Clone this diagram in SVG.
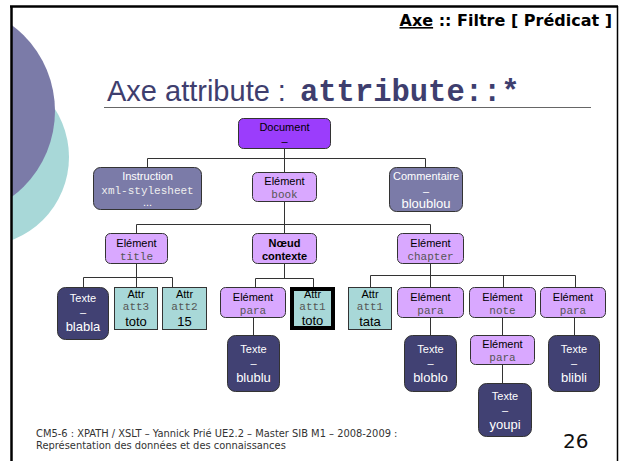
<svg xmlns="http://www.w3.org/2000/svg" width="621" height="461" viewBox="0 0 621 461">
  <defs>
    <clipPath id="slideArea"><rect x="11" y="6" width="607" height="455"/></clipPath>
  </defs>
  <style>
    .frame{stroke:#000;fill:none}
    .doc{fill:#9b3dfc;stroke:#333;stroke-width:1}
    .elem{fill:#d9a8ff;stroke:#333;stroke-width:1}
    .proc{fill:#7b7ba8;stroke:#333;stroke-width:1}
    .txt{fill:#414173;stroke:#333;stroke-width:1}
    .attr{fill:#a8d8d8;stroke:#333;stroke-width:1}
    .ctx{fill:#a8d8d8;stroke:#000;stroke-width:4}
    .lbl{font-family:"Liberation Sans",Arial,sans-serif;font-size:11px;text-anchor:middle;fill:#000}
    .bold{font-weight:bold}
    .code{font-family:"Liberation Mono","Courier New",monospace;font-size:11px;text-anchor:middle;fill:#555}
    .val{font-family:"Liberation Sans",Arial,sans-serif;font-size:13px;text-anchor:middle;fill:#000}
    .w{fill:#fff}
    .links path{fill:none;stroke:#333;stroke-width:1}
  </style>

  <rect x="0" y="0" width="621" height="461" fill="#fff"/>

  <!-- decorative discs on the left edge -->
  <g clip-path="url(#slideArea)">
    <circle cx="-20" cy="157" r="89" fill="#a8d8d8"/>
    <circle cx="-52" cy="111" r="107" fill="#7b7ba8"/>
  </g>

  <!-- slide frame -->
  <path class="frame" d="M10 6.5 H618" stroke-width="2.5"/>
  <path class="frame" d="M11.5 6 V461" stroke-width="2.5"/>
  <path class="frame" d="M617.5 6 V461" stroke-width="1.5"/>

  <!-- header -->
  <text x="612" y="26" text-anchor="end" font-family="DejaVu Sans,Verdana,sans-serif" font-size="16" font-weight="bold" fill="#000"><tspan text-decoration="underline">Axe</tspan> :: Filtre [ Prédicat ]</text>

  <!-- title -->
  <text x="107" y="101" font-family="Liberation Sans,Arial,sans-serif" font-size="29" fill="#3e3e6e">Axe attribute : </text>
  <text x="300" y="101" font-family="Liberation Mono,Courier New,monospace" font-size="30.5" font-weight="bold" fill="#3e3e6e">attribute::*</text>
  <path d="M104 107.5 H591" stroke="#666" stroke-width="1"/>

  <!-- connectors -->
  <g class="links">
    <path d="M284.5 149 V172"/>
    <path d="M147.5 167 V158.5 H425.5 V167"/>
    <path d="M284.5 202 V233"/>
    <path d="M136.5 233 V224.5 H430.5 V233"/>
    <path d="M136.5 264 V287"/>
    <path d="M83.5 287 V277.5 H172.5 V287"/>
    <path d="M284.5 264 V278.5"/>
    <path d="M255.5 287 V278.5 H313.5 V289"/>
    <path d="M430.5 264 V287"/>
    <path d="M370.5 287 V275.5 H575.5 V287"/>
    <path d="M503.5 275.5 V287"/>
    <path d="M253.5 318 V335"/>
    <path d="M430.5 318 V335"/>
    <path d="M502.5 318 V335"/>
    <path d="M502.5 365 V383"/>
    <path d="M574.5 318 V335"/>
  </g>

  <!-- nodes -->
  <g id="document">
    <rect class="doc" x="238.5" y="118.5" width="92" height="30" rx="5"/>
    <text class="lbl" x="284.5" y="131">Document</text>
    <text class="lbl" x="284.5" y="145">–</text>
  </g>
  <g id="instruction">
    <rect class="proc" x="93.5" y="167.5" width="108" height="42" rx="7"/>
    <text class="lbl w" x="147.5" y="180">Instruction</text>
    <text class="code" x="147.5" y="194" style="fill:#eee">xml-stylesheet</text>
    <text class="lbl w" x="147.5" y="206">...</text>
  </g>
  <g id="book">
    <rect class="elem" x="252.5" y="172.5" width="64" height="29" rx="5"/>
    <text class="lbl" x="284.5" y="185">Elément</text>
    <text class="code" x="284.5" y="198">book</text>
  </g>
  <g id="commentaire">
    <rect class="proc" x="389.5" y="167.5" width="73" height="44" rx="7"/>
    <text class="lbl w" x="426" y="180">Commentaire</text>
    <text class="lbl w" x="426" y="195">–</text>
    <text class="val w" x="426" y="208">bloublou</text>
  </g>

  <g id="title">
    <rect class="elem" x="105.5" y="233.5" width="62" height="30" rx="5"/>
    <text class="lbl" x="136.5" y="247">Elément</text>
    <text class="code" x="136.5" y="260">title</text>
  </g>
  <g id="noeud-contexte">
    <rect class="elem" x="252.5" y="233.5" width="64" height="30" rx="5"/>
    <text class="lbl bold" x="284.5" y="247">Nœud</text>
    <text class="lbl bold" x="284.5" y="260">contexte</text>
  </g>
  <g id="chapter">
    <rect class="elem" x="397.5" y="233.5" width="66" height="30" rx="5"/>
    <text class="lbl" x="430.5" y="247">Elément</text>
    <text class="code" x="430.5" y="260">chapter</text>
  </g>

  <g id="texte-blabla">
    <rect class="txt" x="57.5" y="287.5" width="51" height="52" rx="8"/>
    <text class="lbl w" x="83" y="302">Texte</text>
    <text class="lbl w" x="83" y="316">–</text>
    <text class="val w" x="83" y="331">blabla</text>
  </g>
  <g id="attr-att3">
    <rect class="attr" x="114.5" y="287.5" width="43" height="42"/>
    <text class="lbl" x="136" y="298">Attr</text>
    <text class="code" x="136" y="310">att3</text>
    <text class="val" x="136" y="326">toto</text>
  </g>
  <g id="attr-att2">
    <rect class="attr" x="162.5" y="287.5" width="44" height="42"/>
    <text class="lbl" x="184.5" y="298">Attr</text>
    <text class="code" x="184.5" y="310">att2</text>
    <text class="val" x="184.5" y="326">15</text>
  </g>
  <g id="para-1">
    <rect class="elem" x="220.5" y="287.5" width="65" height="30" rx="5"/>
    <text class="lbl" x="253" y="301">Elément</text>
    <text class="code" x="253" y="314">para</text>
  </g>
  <g id="attr-att1-ctx">
    <rect class="ctx" x="292" y="289" width="41" height="39"/>
    <text class="lbl" x="312.5" y="298">Attr</text>
    <text class="code" x="312.5" y="310">att1</text>
    <text class="val" x="312.5" y="325">toto</text>
  </g>
  <g id="attr-att1">
    <rect class="attr" x="348.5" y="287.5" width="43" height="42"/>
    <text class="lbl" x="370" y="298">Attr</text>
    <text class="code" x="370" y="310">att1</text>
    <text class="val" x="370" y="326">tata</text>
  </g>
  <g id="para-2">
    <rect class="elem" x="397.5" y="287.5" width="66" height="30" rx="5"/>
    <text class="lbl" x="430.5" y="301">Elément</text>
    <text class="code" x="430.5" y="314">para</text>
  </g>
  <g id="note">
    <rect class="elem" x="469.5" y="287.5" width="66" height="30" rx="5"/>
    <text class="lbl" x="502.5" y="301">Elément</text>
    <text class="code" x="502.5" y="314">note</text>
  </g>
  <g id="para-3">
    <rect class="elem" x="540.5" y="287.5" width="65" height="30" rx="5"/>
    <text class="lbl" x="573" y="301">Elément</text>
    <text class="code" x="573" y="314">para</text>
  </g>

  <g id="texte-blublu">
    <rect class="txt" x="227.5" y="335.5" width="52" height="56" rx="8"/>
    <text class="lbl w" x="253.5" y="353">Texte</text>
    <text class="lbl w" x="253.5" y="367">–</text>
    <text class="val w" x="253.5" y="382">blublu</text>
  </g>
  <g id="texte-bloblo">
    <rect class="txt" x="404.5" y="335.5" width="52" height="56" rx="8"/>
    <text class="lbl w" x="430.5" y="353">Texte</text>
    <text class="lbl w" x="430.5" y="367">–</text>
    <text class="val w" x="430.5" y="382">bloblo</text>
  </g>
  <g id="para-4">
    <rect class="elem" x="470.5" y="335.5" width="64" height="29" rx="5"/>
    <text class="lbl" x="502.5" y="348">Elément</text>
    <text class="code" x="502.5" y="361">para</text>
  </g>
  <g id="texte-blibli">
    <rect class="txt" x="548.5" y="335.5" width="51" height="56" rx="8"/>
    <text class="lbl w" x="574" y="353">Texte</text>
    <text class="lbl w" x="574" y="367">–</text>
    <text class="val w" x="574" y="382">blibli</text>
  </g>
  <g id="texte-youpi">
    <rect class="txt" x="478.5" y="383.5" width="53" height="53" rx="8"/>
    <text class="lbl w" x="505" y="400">Texte</text>
    <text class="lbl w" x="505" y="414">–</text>
    <text class="val w" x="505" y="429">youpi</text>
  </g>

  <!-- footer -->
  <g font-family="DejaVu Sans,Verdana,sans-serif" font-size="9.9" fill="#333">
    <text x="36" y="437">CM5-6 : XPATH / XSLT – Yannick Prié UE2.2 – Master SIB M1 – 2008-2009 :</text>
    <text x="36" y="449">Représentation des données et des connaissances</text>
  </g>
  <text x="563" y="448" font-family="DejaVu Sans,Verdana,sans-serif" font-size="20" fill="#111">26</text>
</svg>
